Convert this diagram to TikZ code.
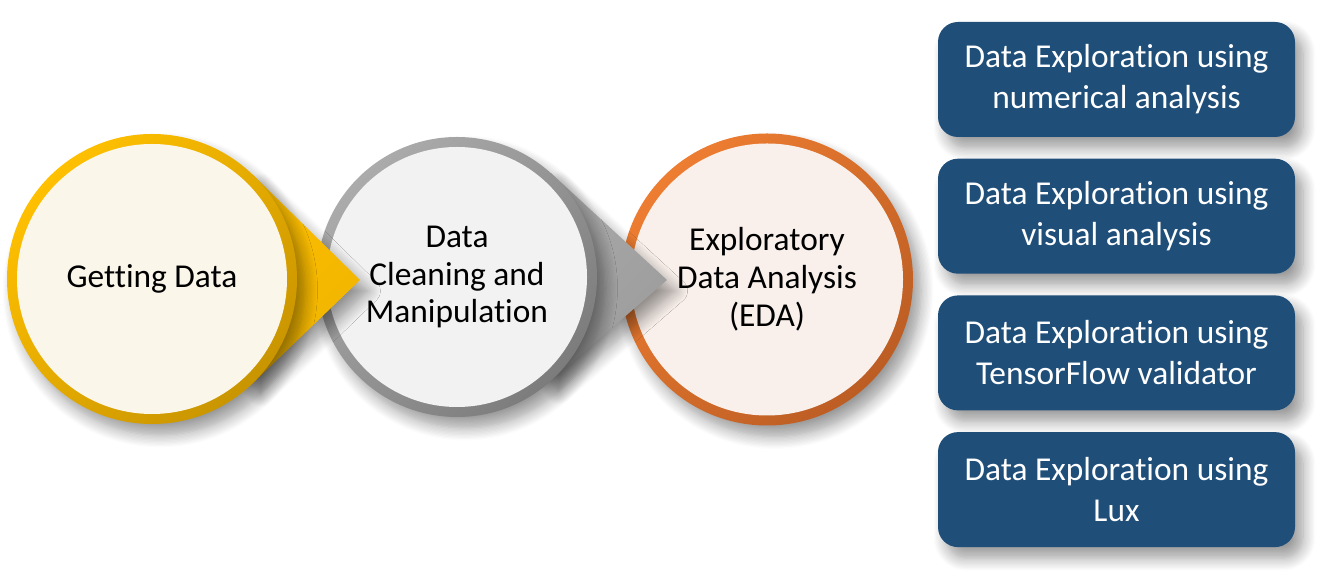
\documentclass[tikz,border=0pt]{standalone}
\usepackage{fontspec}
\setmainfont{Carlito}[RawFeature={-liga;-clig;-calt;-dlig}]
\usetikzlibrary{positioning,calc,shadows.blur}

\definecolor{gold}{HTML}{FFC000}
\definecolor{goldD}{HTML}{C99500}
\definecolor{cream}{HTML}{FBF6EA}
\definecolor{silver}{HTML}{ABABAB}
\definecolor{silverD}{HTML}{7C7C7C}
\definecolor{pale}{HTML}{F2F2F2}
\definecolor{rust}{HTML}{ED7D31}
\definecolor{rustD}{HTML}{BC5D24}
\definecolor{blush}{HTML}{F9F0EB}
\definecolor{navy}{HTML}{1F4E79}

\tikzset{
  softshadow/.style={blur shadow={shadow xshift=0.16cm, shadow yshift=-0.22cm,
      shadow blur radius=0.25cm, shadow blur steps=10, shadow opacity=40}},
  stage/.style n args={4}{circle, inner sep=0pt, minimum size=#4cm, align=center,
      font=\fontsize{19}{21.6}\selectfont, softshadow,
      top color=#1, bottom color=#2, shading angle=45,
      path picture={\fill[#3] (path picture bounding box.center) circle ({#4/2-0.2});}},
  probe/.style={rounded corners=0.4cm, fill=navy, text=white, minimum width=7.14cm,
      minimum height=2.3cm, inner sep=0pt, align=center,
      font=\fontsize{19}{23.3}\selectfont, softshadow},
}

\begin{document}
\begin{tikzpicture}
\useasboundingbox (0,0) rectangle (26.58,11.58);

% Centres and tips
\coordinate (o1) at (3.04,6.00);
\coordinate (o2) at (9.14,6.04);
\coordinate (tip1) at (7.20,5.98);
\coordinate (tip2) at (13.34,5.98);

% Stages (back to front)
\node[stage={rust}{rustD}{blush}{5.84}] (eda) at (15.34,5.99) {Exploratory\\Data Analysis\\(EDA)};

\shade[top color=silver, bottom color=silver!70!silverD, shading angle=45, softshadow]
  (tip2) -- ($(o2)+(48:2.8)$) -- (o2) -- ($(o2)+(-48:2.8)$) -- cycle;
\node[stage={silver}{silverD}{pale}{5.6}] (clean) at (o2) {Data\\Cleaning and\\Manipulation};

\shade[top color=gold, bottom color=gold!75!goldD, shading angle=45, softshadow]
  (tip1) -- ($(o1)+(46:2.9)$) -- (o1) -- ($(o1)+(-46:2.9)$) -- cycle;
\node[stage={gold}{goldD}{cream}{5.8}] (get) at (o1) {Getting Data};

% Exploration methods
\node[probe] (num) at (22.33,9.99) {Data Exploration using\\numerical analysis};
\node[probe, below=0.42cm of num] (vis) {Data Exploration using\\visual analysis};
\node[probe, below=0.42cm of vis] (tfv) {Data Exploration using\\TensorFlow validator};
\node[probe, below=0.42cm of tfv] (lux) {Data Exploration using\\Lux};

\end{tikzpicture}
\end{document}
